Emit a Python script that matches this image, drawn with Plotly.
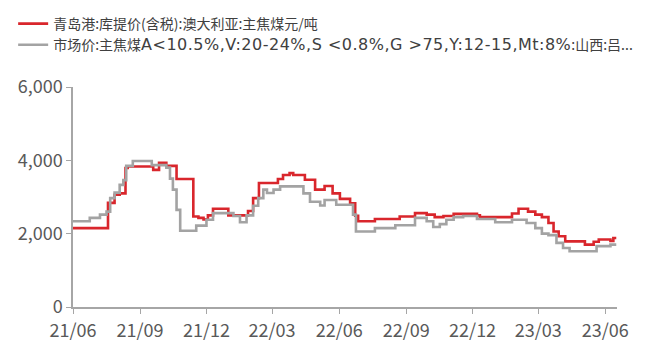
import plotly.graph_objects as go

red_name = "青岛港:库提价(含税):澳大利亚:主焦煤元/吨"
gray_name_cjk_head = "市场价:主焦煤"
gray_name_latin = "A&lt;10.5%,V:20-24%,S &lt;0.8%,G &gt;75,Y:12-15,Mt:8%"
gray_name_cjk_tail = ":山西:吕..."

red_dates = ["2021-06-01", "2021-07-19", "2021-07-28", "2021-08-04", "2021-08-12", "2021-08-15",
             "2021-09-19", "2021-09-27", "2021-10-07", "2021-10-21", "2021-11-13", "2021-11-20",
             "2021-11-27", "2021-12-03", "2021-12-10", "2021-12-31", "2022-01-27", "2022-02-03",
             "2022-02-11", "2022-03-09", "2022-03-16", "2022-03-25", "2022-03-30", "2022-04-15",
             "2022-04-29", "2022-05-12", "2022-05-23", "2022-06-02", "2022-06-16", "2022-06-23",
             "2022-06-27", "2022-07-20", "2022-08-23", "2022-09-13", "2022-09-29", "2022-10-10",
             "2022-10-22", "2022-11-05", "2022-12-07", "2022-12-11", "2023-01-24", "2023-02-02",
             "2023-02-15", "2023-02-25", "2023-03-06", "2023-03-15", "2023-03-22", "2023-03-29",
             "2023-04-07", "2023-05-04", "2023-05-16", "2023-05-23", "2023-06-08", "2023-06-12",
             "2023-06-16"]
red_values = [2150, 2840, 3060, 3100, 3790, 3830,
              3740, 3930, 3850, 3490, 2470, 2430,
              2390, 2500, 2680, 2500, 2620, 2970,
              3380, 3490, 3600, 3650, 3600, 3470,
              3200, 3300, 3100, 2950, 2830, 2490,
              2340, 2400, 2470, 2560, 2520, 2450,
              2480, 2540, 2500, 2450, 2550, 2680,
              2600, 2520, 2450, 2290, 2060, 1930,
              1790, 1700, 1780, 1840, 1800, 1880,
              1880]

gray_dates = ["2021-06-01", "2021-06-24", "2021-07-08", "2021-07-17", "2021-07-22", "2021-07-28",
              "2021-08-04", "2021-08-09", "2021-08-13", "2021-08-22", "2021-09-17", "2021-10-07",
              "2021-10-12", "2021-10-16", "2021-10-21", "2021-10-26", "2021-11-17", "2021-12-01",
              "2021-12-10", "2022-01-07", "2022-01-16", "2022-01-25", "2022-02-03", "2022-02-10",
              "2022-02-17", "2022-02-22", "2022-03-03", "2022-03-12", "2022-04-13", "2022-04-22",
              "2022-05-06", "2022-05-12", "2022-05-28", "2022-06-20", "2022-06-24", "2022-07-20",
              "2022-08-17", "2022-09-13", "2022-09-29", "2022-10-08", "2022-10-17", "2022-10-26",
              "2022-11-05", "2022-11-18", "2022-12-07", "2023-01-01", "2023-01-24", "2023-02-13",
              "2023-02-25", "2023-03-06", "2023-03-15", "2023-03-26", "2023-04-04", "2023-04-13",
              "2023-05-20", "2023-06-08", "2023-06-16"]
gray_values = [2340, 2430, 2520, 2600, 2970, 3120,
               3330, 3460, 3850, 3980, 3870, 3800,
               3500, 3200, 2650, 2080, 2220, 2380,
               2560, 2480, 2310, 2500, 2760, 2970,
               3200, 3110, 3200, 3290, 3100, 2870,
               2770, 2920, 2790, 2520, 2060, 2150,
               2230, 2430, 2340, 2180, 2260, 2380,
               2450, 2480, 2400, 2310, 2380, 2290,
               2150, 2000, 1960, 1750, 1610, 1520,
               1660, 1700, 1700]

tick_vals = ["2021-06-01", "2021-09-01", "2021-12-01", "2022-03-01", "2022-06-01",
             "2022-09-01", "2022-12-01", "2023-03-01", "2023-06-01"]
tick_text = ["21/06", "21/09", "21/12", "22/03", "22/06", "22/09", "22/12", "23/03", "23/06"]
y_ticks = [0, 2000, 4000, 6000]
y_tick_text = ["0", "2,000", "4,000", "6,000"]

tick_family = "Noto Sans CJK SC, sans-serif"
legend_family = "Noto Sans CJK SC, sans-serif"

gray_name = (gray_name_cjk_head
             + '<span style="font-family:DejaVu Sans;font-size:16px;letter-spacing:0.5px">'
             + gray_name_latin + "</span>"
             + gray_name_cjk_tail)

fig = go.Figure()
fig.add_trace(go.Scatter(x=red_dates, y=red_values, name=red_name, mode="lines",
                         line=dict(color="#D9262C", width=2.6, shape="hv")))
fig.add_trace(go.Scatter(x=gray_dates, y=gray_values, name=gray_name, mode="lines",
                         line=dict(color="#A3A3A3", width=2.6, shape="hv")))

fig.update_layout(
    width=644, height=355,
    margin=dict(l=65, r=35, t=79, b=56, autoexpand=False),
    paper_bgcolor="white", plot_bgcolor="white",
    font=dict(family=tick_family, size=18, color="#595959"),
    legend=dict(xref="container", yref="container", x=0.008, y=1.008,
                xanchor="left", yanchor="top",
                font=dict(family=legend_family, size=14, color="#404040"),
                bgcolor="rgba(0,0,0,0)", tracegroupgap=0),
    showlegend=True,
)
fig.update_xaxes(range=["2021-06-01", "2023-06-17"], tickvals=tick_vals, ticktext=tick_text,
                 showgrid=False, zeroline=False, showline=True, linecolor="#A6A6A6", linewidth=1.5,
                 ticks="outside", ticklen=5, tickcolor="#A6A6A6", ticklabelstandoff=2,
                 tickfont=dict(family=tick_family, size=18, color="#595959"))
fig.update_yaxes(range=[0, 6000], tickvals=y_ticks, ticktext=y_tick_text,
                 showgrid=False, zeroline=False, showline=True, linecolor="#A6A6A6", linewidth=1.5,
                 ticks="outside", ticklen=5, tickcolor="#A6A6A6",
                 tickfont=dict(family=tick_family, size=18, color="#595959"))

fig.write_html("out.html")
